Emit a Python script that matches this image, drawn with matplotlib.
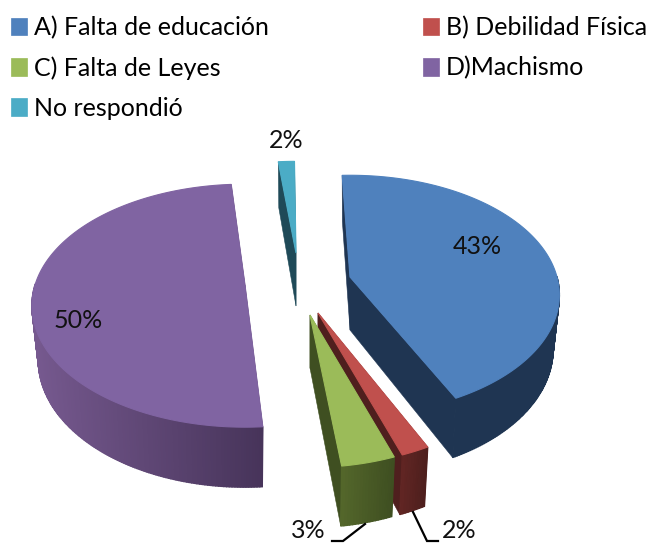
import numpy as np
import matplotlib
matplotlib.use("Agg")
import matplotlib.pyplot as plt
from matplotlib.patches import Polygon, Patch
from matplotlib.colors import to_rgb

# --- data (shares; the labels show them rounded) ---
categories = ["A) Falta de educación", "B) Debilidad Física", "C) Falta de Leyes", "D)Machismo", "No respondió"]
shares = [43.4, 1.8, 3.4, 49.9, 1.5]

# --- style ---
top_colors = ["#4F81BD", "#C0504D", "#9BBB59", "#8064A2", "#4BACC6"]
cut_colors = ["#1F3552", "#4F1F1E", "#3F4F21", "#4A3558", "#1F4A58"]
rim_light = ["#1F3552", "#622624", "#54672B", "#76598F", "#1F4A58"]
rim_dark = ["#1F3552", "#4E1F1D", "#3F4F21", "#47345A", "#1F4A58"]

# per-slice placement of the exploded pieces (pixels of the 653x544 canvas)
apex_x = [350, 318, 310, 245, 296]
apex_y = [277, 313, 315, 285, 253]
radius_x = [207, 207, 207, 210, 207]
radius_y = [117, 122, 122, 118, 110]
persp = [0.15, 0.20, 0.20, 0.17, 0.20]
twist = [-0.5, 0, 0, 3.0, 1.5]
start_angle = -2.0
draw_order = [4, 3, 0, 1, 2]
label_pos = [(477, 247), (459, 531), (308, 531), (78, 320), (286, 141)]
leaders = {1: ([438, 427, 413], [541, 541, 512]), 2: ([332, 343, 365], [541, 541, 524])}

fig = plt.figure(figsize=(6.53, 5.44), dpi=100)
ax = fig.add_axes([0, 0, 1, 1])
ax.set_xlim(0, 653)
ax.set_ylim(544, 0)
ax.axis("off")

FONT = "Lato"


def depth(Y):
    return 53 + 7 * Y


def top_point(i, th):
    X, Y = np.sin(th), -np.cos(th)
    w = 1 - persp[i] * Y
    return radius_x[i] * X / w, radius_y[i] * Y / w, Y


def project(i, th, lower=False):
    dx, dy, Y = top_point(i, th)
    if lower:
        return apex_x[i] + dx * 0.97, apex_y[i] + dy + depth(Y)
    return apex_x[i] + dx, apex_y[i] + dy


edges = np.cumsum([0] + shares) / np.sum(shares) * 360 + start_angle

for i in draw_order:
    z = draw_order.index(i) * 3
    a0 = np.radians(edges[i] + twist[i])
    a1 = np.radians(edges[i + 1] + twist[i])
    ths = np.linspace(a0, a1, max(6, int((a1 - a0) * 90)))
    apex_top = (apex_x[i], apex_y[i])
    apex_low = (apex_x[i], apex_y[i] + depth(0))
    # cut faces
    for th in (a0, a1):
        poly = [apex_top, project(i, th), project(i, th, lower=True), apex_low]
        ax.add_patch(Polygon(poly, closed=True, fc=cut_colors[i], ec=cut_colors[i], lw=0.4, zorder=z + 1))
    # rim, shaded strip by strip (only the part that faces the viewer)
    c_l, c_d = np.array(to_rgb(rim_light[i])), np.array(to_rgb(rim_dark[i]))
    xs = [project(i, t)[0] for t in ths]
    xlo, xhi = min(xs), max(xs)
    for t0, t1 in zip(ths[:-1], ths[1:]):
        if -np.cos(t0) < 0.0 and -np.cos(t1) < 0.0:
            continue
        f = (project(i, t0)[0] - xlo) / max(xhi - xlo, 1)
        col = c_l + (c_d - c_l) * f
        poly = [project(i, t0), project(i, t1), project(i, t1, lower=True), project(i, t0, lower=True)]
        ax.add_patch(Polygon(poly, closed=True, fc=col, ec=col, lw=1.0, zorder=z + 2))
    # top face
    poly = [apex_top] + [project(i, t) for t in ths]
    ax.add_patch(Polygon(poly, closed=True, fc=top_colors[i], ec=top_colors[i], lw=0.8, zorder=z + 3))

# percentage labels
for i, (lx, ly) in enumerate(label_pos):
    ax.text(lx, ly, f"{round(shares[i])}%", ha="center", va="center", fontsize=18, family=FONT, color="#111111", zorder=40)
for i, (lxs, lys) in leaders.items():
    ax.plot(lxs, lys, color="black", lw=1.6, solid_joinstyle="miter", zorder=39)

# legend (filled column by column)
order = [0, 2, 4, 1, 3]
handles = [Patch(fc=top_colors[i], ec=top_colors[i], lw=0.5, label=categories[i]) for i in order]
ax.legend(handles=handles, ncol=2, loc="upper left", bbox_to_anchor=(-0.007, 1.0), frameon=False,
          prop={"family": FONT, "size": 18}, handlelength=0.64, handleheight=0.70, handletextpad=0.28,
          labelspacing=0.68, columnspacing=6.15, borderaxespad=0.3, borderpad=0.34)

fig.savefig("out.png", dpi=100, facecolor="white")
